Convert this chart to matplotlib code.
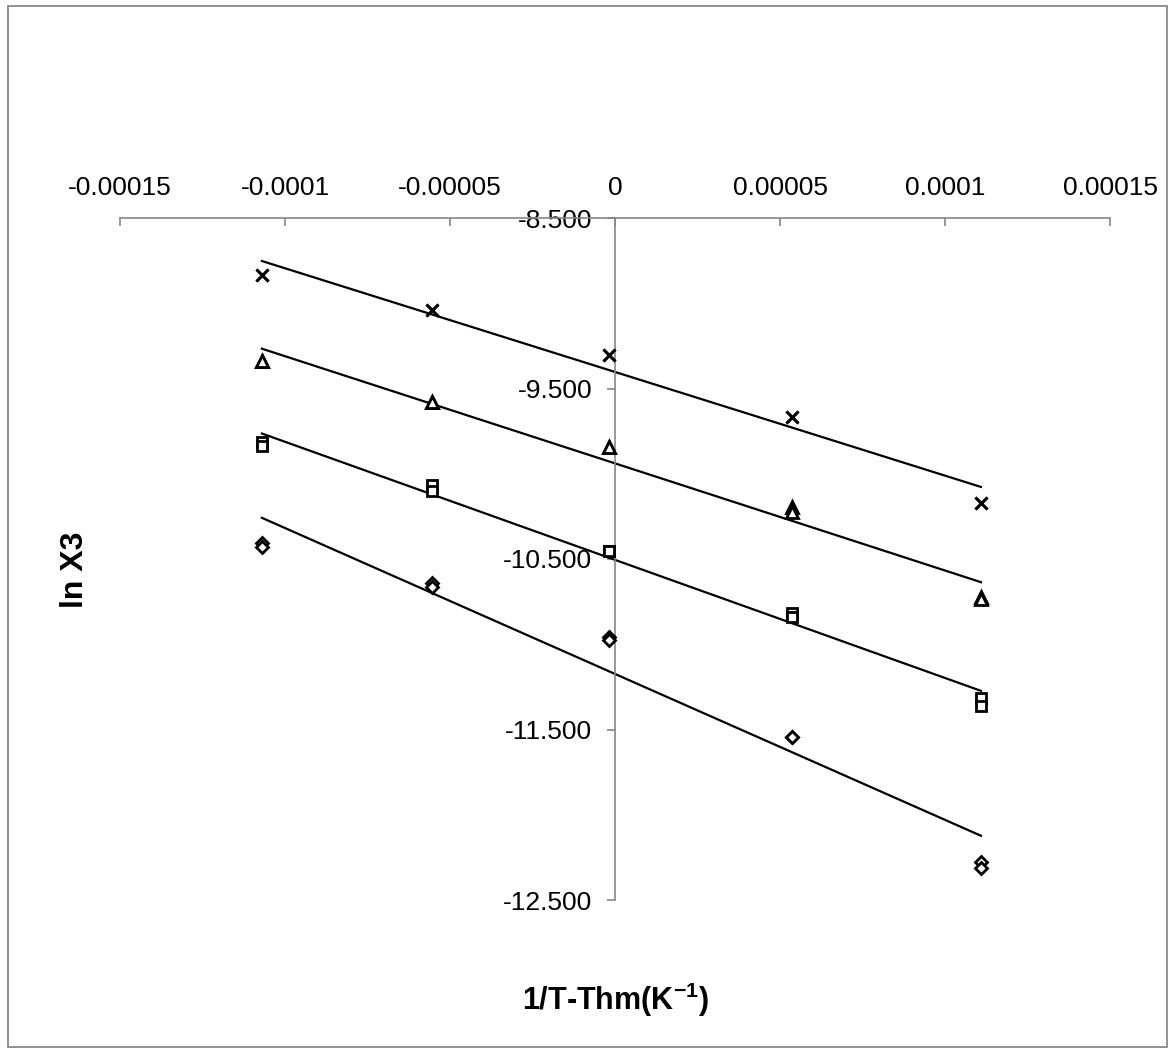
#!/usr/bin/env python
"""Van't Hoff style plot: ln X3 against 1/T - 1/Thm with linear trendlines."""

from __future__ import annotations

import matplotlib

matplotlib.use("Agg")

import matplotlib.pyplot as plt
import numpy as np
from matplotlib.patches import Rectangle
from matplotlib.ticker import FormatStrFormatter

plt.rcParams["font.family"] = ["Liberation Sans", "DejaVu Sans"]
plt.rcParams["mathtext.fontset"] = "custom"
plt.rcParams["mathtext.rm"] = "Liberation Sans"
plt.rcParams["mathtext.bf"] = "Liberation Sans:bold"

# 1/T - 1/Thm (K^-1)
INV_T = [-1.070e-4, -5.55e-5, -1.8e-6, 5.36e-5, 1.109e-4]

# ln X3, two replicate readings per temperature (overlapping markers)
CROSS_A = [-8.834, -9.040, -9.304, -9.665, -10.173]
CROSS_B = [-8.834, -9.040, -9.304, -9.665, -10.173]
TRIANGLE_A = [-9.339, -9.577, -9.841, -10.195, -10.725]
TRIANGLE_B = [-9.339, -9.577, -9.841, -10.224, -10.735]
SQUARE_A = [-9.814, -10.066, -10.453, -10.815, -11.313]
SQUARE_B = [-9.837, -10.101, -10.453, -10.842, -11.360]
DIAMOND_A = [-10.408, -10.639, -10.956, -11.542, -12.275]
DIAMOND_B = [-10.428, -10.666, -10.975, -11.542, -12.314]

X_TICKS = [-0.00015, -0.0001, -0.00005, 0, 0.00005, 0.0001, 0.00015]
X_TICK_LABELS = ["-0.00015", "-0.0001", "-0.00005", "0", "0.00005", "0.0001", "0.00015"]
Y_TICKS = [-12.5, -11.5, -10.5, -9.5, -8.5]

SERIES = [
    ("x", CROSS_A, CROSS_B),
    ("^", TRIANGLE_A, TRIANGLE_B),
    ("s", SQUARE_A, SQUARE_B),
    ("D", DIAMOND_A, DIAMOND_B),
]

MARKER_SIZE = {"x": 8.5, "^": 8.5, "s": 7.5, "D": 6.5}

W, H = 1175, 1053


def px(x: float, y: float) -> tuple[float, float]:
    return x / W, 1 - y / H


def main() -> int:
    fig = plt.figure(figsize=(W / 100, H / 100), dpi=100)
    fig.patch.set_facecolor("white")

    # Excel chart-area border
    x0, y0 = px(8, 1047)
    x1, y1 = px(1167, 6)
    fig.add_artist(Rectangle((x0, y0), x1 - x0, y1 - y0, transform=fig.transFigure,
                             fill=False, edgecolor="#898989", linewidth=1.3))

    left, bottom = px(120, 900)
    right, top = px(1110, 218)
    ax = fig.add_axes([left, bottom, right - left, top - bottom])
    ax.set_xlim(-0.00015, 0.00015)
    ax.set_ylim(-12.5, -8.5)
    ax.patch.set_alpha(0)

    x = np.asarray(INV_T)
    for marker, rep_a, rep_b in SERIES:
        xs = np.concatenate([x, x])
        ys = np.concatenate([rep_a, rep_b])
        slope, intercept = np.polyfit(xs, ys, 1)
        line_x = np.array([x.min(), x.max()])
        ax.plot(line_x, slope * line_x + intercept, color="black", linewidth=1.6, zorder=2)
        for rep in (rep_a, rep_b):
            ax.plot(x, rep, linestyle="none", marker=marker, markersize=MARKER_SIZE[marker],
                    markerfacecolor="white" if marker != "x" else "black",
                    markeredgecolor="black", markeredgewidth=2.0, zorder=3)

    # axes cross at x = 0 and y = -8.5 (top)
    for side in ("right", "bottom"):
        ax.spines[side].set_visible(False)
    ax.spines["left"].set_position(("data", 0))
    for side in ("left", "top"):
        ax.spines[side].set_color("#868686")
        ax.spines[side].set_linewidth(1.2)

    ax.xaxis.tick_top()
    ax.set_xticks(X_TICKS)
    ax.set_xticklabels(X_TICK_LABELS)
    ax.tick_params(axis="x", direction="in", length=5.5, width=1.2, color="#868686",
                   labelsize=19, pad=13)

    ax.set_yticks(Y_TICKS)
    ax.yaxis.set_major_formatter(FormatStrFormatter("%.3f"))
    ax.tick_params(axis="y", direction="out", length=5.5, width=1.2, color="#868686",
                   labelsize=19, pad=11)

    lx, ly = px(75, 570)
    fig.text(lx, ly, "ln X3", rotation=90, fontsize=23, fontweight="bold",
             ha="center", va="center")
    tx, ty = px(615, 1000)
    fig.text(tx, ty, r"1/T-Thm(K$^{\mathbf{-1}}$)", fontsize=22, fontweight="bold",
             ha="center", va="center")

    fig.savefig("out.png", dpi=100)
    plt.close(fig)
    return 0


if __name__ == "__main__":
    raise SystemExit(main())
